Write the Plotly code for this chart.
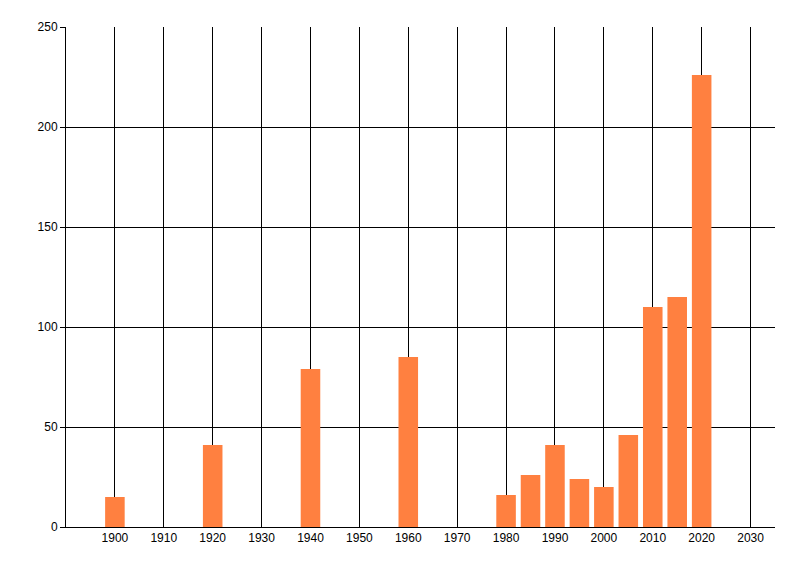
import plotly.graph_objects as go

# year buckets and counts
years = [1900, 1920, 1940, 1960, 1980, 1985, 1990, 1995, 2000, 2005, 2010, 2015, 2020]
counts = [15, 41, 79, 85, 16, 26, 41, 24, 20, 46, 110, 115, 226]

x_ticks = list(range(1900, 2031, 10))
y_ticks = [0, 50, 100, 150, 200, 250]

fig = go.Figure(go.Bar(x=years, y=counts, width=4,
                       marker=dict(color="rgb(255,128,64)", line=dict(width=0))))

# page has an 8px body margin, so offsets are shifted by that
fig.update_layout(
    width=800, height=576,
    margin=dict(l=58, r=33, t=19, b=57),
    paper_bgcolor="white", plot_bgcolor="white",
    font=dict(family="Liberation Sans, Arial, sans-serif", size=12, color="black"),
    showlegend=False,
)
fig.update_xaxes(range=[1890, 2035], tickvals=x_ticks, showgrid=True,
                 gridcolor="black", gridwidth=1, showline=True, linecolor="black",
                 linewidth=1, zeroline=False, ticks="", ticklen=0)
fig.update_yaxes(range=[0, 250], tickvals=y_ticks, showgrid=True,
                 gridcolor="black", gridwidth=1, showline=True, linecolor="black",
                 linewidth=1, zeroline=False, ticks="outside", ticklen=5,
                 tickcolor="black")

fig.write_html("out.html")
